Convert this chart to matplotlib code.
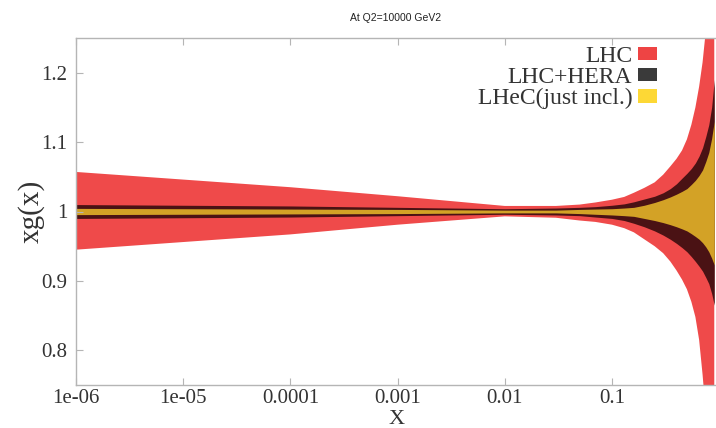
import numpy as np
import matplotlib
matplotlib.use("Agg")
import matplotlib.pyplot as plt
from matplotlib.patches import Patch
from matplotlib.ticker import FixedLocator, FixedFormatter, NullLocator

# gluon ratio xg(x) at Q2 = 10000 GeV2, bands relative to central value
x = [1e-6, 1e-5, 1e-4, 1e-3, 1e-2, 0.03, 0.05, 0.07, 0.1, 0.13, 0.16, 0.2,
     0.25, 0.3, 0.35, 0.4, 0.45, 0.5, 0.55, 0.6, 0.65, 0.7, 0.75, 0.8, 0.85, 0.9]
central = [1.0] * len(x)

lhc_up = [0.057, 0.046, 0.035, 0.022, 0.008, 0.008, 0.010, 0.013, 0.017, 0.021,
          0.027, 0.034, 0.042, 0.053, 0.065, 0.076, 0.088, 0.104, 0.125, 0.150,
          0.180, 0.215, 0.260, 0.320, 0.400, 0.500]
lhc_dn = [0.055, 0.044, 0.033, 0.019, 0.007, 0.009, 0.013, 0.015, 0.019, 0.024,
          0.030, 0.040, 0.050, 0.060, 0.072, 0.085, 0.098, 0.112, 0.130, 0.152,
          0.185, 0.235, 0.290, 0.350, 0.420, 0.500]

hera_up = [0.010, 0.009, 0.008, 0.006, 0.004, 0.005, 0.006, 0.007, 0.009, 0.011,
           0.014, 0.018, 0.022, 0.027, 0.033, 0.040, 0.048, 0.055, 0.062, 0.070,
           0.080, 0.092, 0.108, 0.125, 0.150, 0.190]
hera_dn = [0.010, 0.009, 0.008, 0.006, 0.004, 0.005, 0.006, 0.008, 0.010, 0.013,
           0.017, 0.022, 0.028, 0.034, 0.040, 0.046, 0.052, 0.058, 0.065, 0.072,
           0.079, 0.086, 0.095, 0.104, 0.118, 0.135]

lhec_up = [0.0045, 0.004, 0.0035, 0.003, 0.002, 0.002, 0.003, 0.0035, 0.004, 0.005,
           0.006, 0.009, 0.013, 0.017, 0.021, 0.025, 0.029, 0.033, 0.039, 0.045,
           0.052, 0.060, 0.072, 0.085, 0.105, 0.130]
lhec_dn = [0.0045, 0.004, 0.0035, 0.003, 0.002, 0.002, 0.003, 0.004, 0.005, 0.006,
           0.007, 0.010, 0.013, 0.016, 0.019, 0.022, 0.025, 0.028, 0.032, 0.036,
           0.040, 0.045, 0.051, 0.058, 0.067, 0.077]

labels = ["LHC", "LHC+HERA", "LHeC(just incl.)"]
band_colors = ["#ef4a4a", "#4a1214", "#d3a226"]
key_colors = ["#ee4444", "#3a3a3a", "#fdd835"]

xticks = [1e-6, 1e-5, 1e-4, 1e-3, 1e-2, 1e-1]
xticklabels = ["1e-06", "1e-05", "0.0001", "0.001", "0.01", "0.1"]
yticks = [0.8, 0.9, 1.0, 1.1, 1.2]
yticklabels = ["0.8", "0.9", "1", "1.1", "1.2"]

serif = "Liberation Serif"
grey = "#b5b5b5"
txt = "#333333"

fig = plt.figure(figsize=(7.16, 4.28), dpi=100)
ax = fig.add_axes([76 / 716, 1 - 385 / 428, 642 / 716, 347 / 428])

xa = np.array(x)
c = np.array(central)
bands = [(lhc_up, lhc_dn), (hera_up, hera_dn), (lhec_up, lhec_dn)]
for (up, dn), col in zip(bands, band_colors):
    ax.fill_between(xa, c - np.array(dn), c + np.array(up),
                    color=col, linewidth=0)

ax.set_xscale("log")
ax.set_xlim(1e-6, 0.975)
ax.set_ylim(0.75, 1.25)

ax.xaxis.set_major_locator(FixedLocator(xticks))
ax.xaxis.set_major_formatter(FixedFormatter(xticklabels))
ax.xaxis.set_minor_locator(NullLocator())
ax.yaxis.set_major_locator(FixedLocator(yticks))
ax.yaxis.set_major_formatter(FixedFormatter(yticklabels))

ax.tick_params(direction="in", length=5, width=0.8, color=grey,
               labelsize=15, labelcolor=txt, top=True)
ax.tick_params(axis="x", pad=3)
ax.tick_params(axis="y", pad=6)
for lab in ax.get_xticklabels() + ax.get_yticklabels():
    lab.set_family(serif)
for s in ax.spines.values():
    s.set_color(grey)
    s.set_linewidth(1.0)

ax.set_xlabel("X", family=serif, fontsize=16, color=txt, labelpad=1)
ax.set_ylabel("xg(x)", family=serif, fontsize=21, color=txt, labelpad=-2)

fig.text(396 / 716, 1 - 18 / 428, "At Q2=10000 GeV2", ha="center", va="center",
         family="Liberation Sans", fontsize=7.5, color="#222222")

handles = [Patch(facecolor=k, edgecolor="none") for k in key_colors]
ax.legend(handles, labels, loc="upper right", frameon=False, markerfirst=False,
          bbox_to_anchor=(657 / 716, 1 - 46 / 428), bbox_transform=fig.transFigure,
          borderaxespad=0, borderpad=0, handlelength=0.8, handleheight=0.5,
          handletextpad=0.25, labelspacing=0.0,
          prop={"family": serif, "size": 17}, labelcolor=txt)

fig.savefig("out.png", dpi=100)
